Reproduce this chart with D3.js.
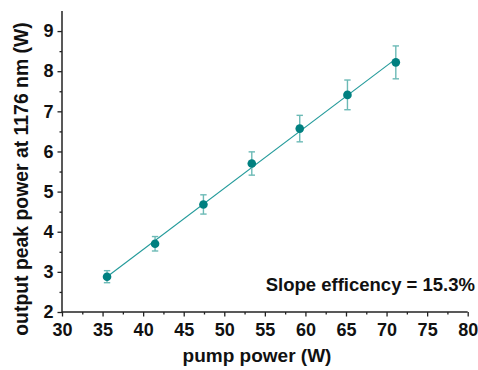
<!DOCTYPE html>
<html>
<head>
<meta charset="utf-8">
<script src="https://cdn.jsdelivr.net/npm/d3@7"></script>
<style>
  body { margin: 0; background: #fff; }
  svg text { font-family: "Liberation Sans", Arial, sans-serif; font-weight: bold; fill: #111; }
</style>
</head>
<body>
<svg id="chart" width="478" height="370"></svg>
<script>
const pumpPower = [35.55, 41.47, 47.43, 53.39, 59.3, 65.18, 71.14];
const peakPower = [2.88, 3.70, 4.68, 5.70, 6.57, 7.41, 8.22];
const errors    = [0.15, 0.18, 0.24, 0.29, 0.33, 0.37, 0.41];
const xTicks = [30, 35, 40, 45, 50, 55, 60, 65, 70, 75, 80];
const yTicks = [2, 3, 4, 5, 6, 7, 8, 9];
const xLabel = "pump power (W)";
const yLabel = "output peak power at 1176 nm (W)";
const annotation = "Slope efficency = 15.3%";

const svg = d3.select("#chart");
const x = d3.scaleLinear().domain([30, 80]).range([62, 467.7]);
const y = d3.scaleLinear().domain([2, 9.5]).range([312, 11]);

const axisColor = "#222";

// minor ticks
const gx = svg.append("g").attr("transform", `translate(0,${y(2)})`);
gx.call(d3.axisBottom(x).tickValues(d3.range(32.5, 80, 5)).tickSize(2.5).tickFormat(""));
const gxMaj = svg.append("g").attr("transform", `translate(0,${y(2)})`);
gxMaj.call(d3.axisBottom(x).tickValues(xTicks).tickSize(4.5).tickPadding(7).tickFormat(d3.format("d")));
gxMaj.selectAll("text").style("font-size", "18px").attr("fill", "#111");

const gy = svg.append("g").attr("transform", `translate(${x(30)},0)`);
gy.call(d3.axisLeft(y).tickValues(d3.range(2.5, 9.5, 1)).tickSize(2.5).tickFormat(""));
const gyMaj = svg.append("g").attr("transform", `translate(${x(30)},0)`);
gyMaj.call(d3.axisLeft(y).tickValues(yTicks).tickSize(4.5).tickPadding(4).tickFormat(d3.format("d")));
gyMaj.selectAll("text").style("font-size", "18px").attr("fill", "#111");

svg.selectAll(".domain").attr("stroke", axisColor).attr("stroke-width", 1.5);
svg.selectAll(".tick line").attr("stroke", axisColor).attr("stroke-width", 1.3);
gx.select(".domain").remove();
gy.select(".domain").remove();
gxMaj.select(".domain").attr("d", `M${x(30)},0H${x(80)}`);
gyMaj.select(".domain").attr("d", `M0,${y(2)}V${y(9.5)}`);

// linear fit
const n = pumpPower.length;
const mx = d3.mean(pumpPower), my = d3.mean(peakPower);
let sxy = 0, sxx = 0;
for (let i = 0; i < n; i++) { sxy += (pumpPower[i]-mx)*(peakPower[i]-my); sxx += (pumpPower[i]-mx)**2; }
const slope = sxy / sxx, icpt = my - slope * mx;
const x0 = d3.min(pumpPower), x1 = d3.max(pumpPower);
svg.append("line")
  .attr("x1", x(x0)).attr("y1", y(icpt + slope*x0))
  .attr("x2", x(x1)).attr("y2", y(icpt + slope*x1))
  .attr("stroke", "#229a9a").attr("stroke-width", 1.1);

const pts = pumpPower.map((v, i) => ({x: v, y: peakPower[i], e: errors[i]}));
const eb = svg.append("g").attr("stroke", "#6cbab6").attr("stroke-width", 1.4);
pts.forEach(p => {
  eb.append("line").attr("x1", x(p.x)).attr("x2", x(p.x)).attr("y1", y(p.y - p.e)).attr("y2", y(p.y + p.e));
  eb.append("line").attr("x1", x(p.x)-3.2).attr("x2", x(p.x)+3.2).attr("y1", y(p.y - p.e)).attr("y2", y(p.y - p.e));
  eb.append("line").attr("x1", x(p.x)-3.2).attr("x2", x(p.x)+3.2).attr("y1", y(p.y + p.e)).attr("y2", y(p.y + p.e));
});
svg.append("g").selectAll("circle").data(pts).join("circle")
  .attr("cx", d => x(d.x)).attr("cy", d => y(d.y)).attr("r", 4.3)
  .attr("fill", "#008080");

svg.append("text").attr("x", 257).attr("y", 362).attr("text-anchor", "middle")
  .style("font-size", "19px").text(xLabel);
svg.append("text").attr("transform", `translate(28,179) rotate(-90)`).attr("text-anchor", "middle")
  .style("font-size", "19.4px").text(yLabel);
svg.append("text").attr("x", 475).attr("y", 291).attr("text-anchor", "end")
  .style("font-size", "18.5px").text(annotation);
</script>
</body>
</html>
